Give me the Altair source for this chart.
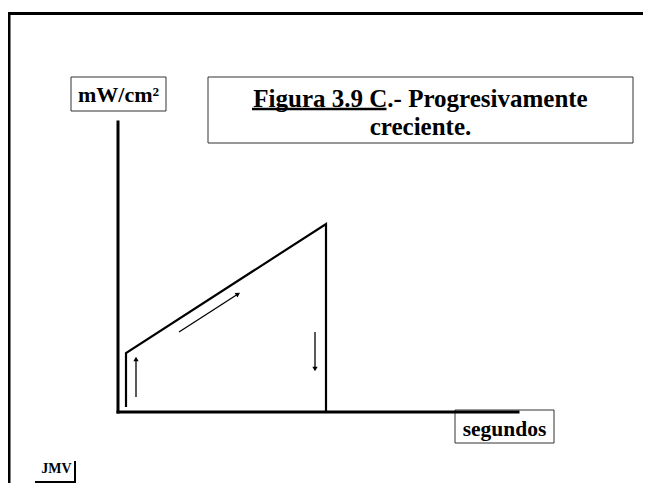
import altair as alt
import pandas as pd
import numpy as np

# ---- data (schematic units: seconds, mW/cm2) ----
wave_t = [0.2, 0.2, 5.2, 5.2]
wave_p = [0.125, 1.475, 4.7, 0.0]

axis_t0 = [0.0, 0.0]
axis_p0 = [0.0, 0.0]
axis_t1 = [0.0, 10.0]
axis_p1 = [7.25, 0.0]

arrow_t0 = [0.45, 1.525, 4.925]
arrow_p0 = [0.375, 2.0, 2.0]
arrow_t1 = [0.45, 3.0, 4.925]
arrow_p1 = [1.325, 2.95, 1.075]

title_lines = ["Figura 3.9 C.- Progresivamente", "creciente."]
y_label = "mW/cm²"
x_label = "segundos"
author = "JMV"

FONT = "'Times New Roman', 'Liberation Serif', 'DejaVu Serif', serif"
W, H = 635, 475

xs = alt.Scale(domain=[-2.75, 13.125], nice=False, zero=False)
ys = alt.Scale(domain=[-1.775, 10.1], nice=False, zero=False)

wave = pd.DataFrame({"t": wave_t, "p": wave_p, "o": list(range(len(wave_t)))})
axes_df = pd.DataFrame({"t0": axis_t0, "p0": axis_p0, "t1": axis_t1, "p1": axis_p1})
arr = pd.DataFrame({"t0": arrow_t0, "p0": arrow_p0, "t1": arrow_t1, "p1": arrow_p1})
arr["ang"] = (np.degrees(np.arctan2(arr["t1"] - arr["t0"], arr["p1"] - arr["p0"])) + 360) % 360
one = pd.DataFrame({"a": [0]})

frame_left = alt.Chart(one).mark_rule(color="black", strokeWidth=3).encode(
    x=alt.value(1), y=alt.value(4.5), y2=alt.value(H))
frame_top = alt.Chart(one).mark_rule(color="black", strokeWidth=3).encode(
    x=alt.value(0), x2=alt.value(W), y=alt.value(5.5))

def box(x0, x1, y0, y1):
    return alt.Chart(one).mark_rect(fill="white", stroke="#333", strokeWidth=1).encode(
        x=alt.value(x0), x2=alt.value(x1), y=alt.value(y0), y2=alt.value(y1))

def label(txt, x, y, size=22):
    return alt.Chart(one).mark_text(font=FONT, fontWeight="bold", fontSize=size,
                                    align="center", baseline="alphabetic", color="black").encode(
        x=alt.value(x), y=alt.value(y), text=alt.value(txt))

ybox = box(63, 158, 69, 103)
ylab = label(y_label, 110.5, 94)
tbox = box(200, 625, 69, 135)
t1 = label(title_lines[0], 412.5, 98.5, size=25)
t2 = label(title_lines[1], 412.5, 127, size=25)
uline = alt.Chart(one).mark_rule(color="black", strokeWidth=2.5).encode(
    x=alt.value(244), x2=alt.value(378.5), y=alt.value(101))
xbox = box(447, 546, 402, 435)
xlab = label(x_label, 496.5, 428, size=21.5)

jmv = label(author, 48.5, 465, size=14)
jl1 = alt.Chart(one).mark_rule(color="black", strokeWidth=2).encode(
    x=alt.value(27), x2=alt.value(68), y=alt.value(474))
jl2 = alt.Chart(one).mark_rule(color="black", strokeWidth=2).encode(
    x=alt.value(67), y=alt.value(453), y2=alt.value(475))

axes = alt.Chart(axes_df).mark_rule(color="black", strokeWidth=3, strokeCap="square").encode(
    x=alt.X("t0:Q", scale=xs, axis=None), x2="t1:Q",
    y=alt.Y("p0:Q", scale=ys, axis=None), y2="p1:Q")

line = alt.Chart(wave).mark_line(color="black", strokeWidth=2.2).encode(
    x=alt.X("t:Q", scale=xs, axis=None),
    y=alt.Y("p:Q", scale=ys, axis=None),
    order="o:Q")

arrows = alt.Chart(arr).mark_rule(color="black", strokeWidth=1.3).encode(
    x=alt.X("t0:Q", scale=xs, axis=None), x2="t1:Q",
    y=alt.Y("p0:Q", scale=ys, axis=None), y2="p1:Q")
heads = alt.Chart(arr).mark_point(shape="triangle-up", filled=True, color="black",
                                  size=28, opacity=1).encode(
    x=alt.X("t1:Q", scale=xs, axis=None),
    y=alt.Y("p1:Q", scale=ys, axis=None),
    angle=alt.Angle("ang:Q", scale=None))

chart = alt.layer(
    frame_left, frame_top, ybox, ylab, tbox, t1, t2, uline, xbox, xlab,
    jmv, jl1, jl2, line, axes, arrows, heads
).properties(
    width=W, height=H, padding=0,
    autosize=alt.AutoSizeParams(type="none"),
    background="white"
).configure_view(stroke=None)

chart.save("out.html", embed_options={"renderer": "svg", "actions": False})
